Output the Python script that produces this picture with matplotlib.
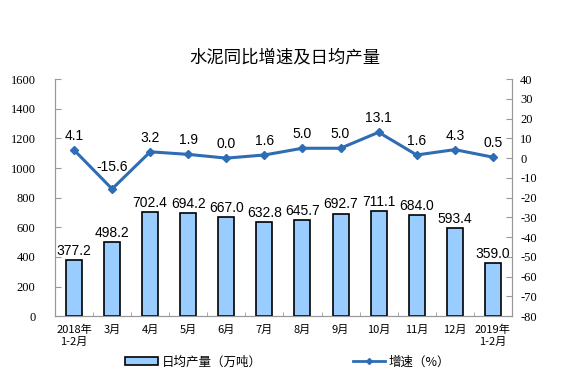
import matplotlib
matplotlib.use("Agg")
import matplotlib.pyplot as plt
from matplotlib.lines import Line2D
from matplotlib.patches import Patch

categories = ["2018年\n1-2月", "3月", "4月", "5月", "6月", "7月", "8月", "9月", "10月", "11月", "12月", "2019年\n1-2月"]
output = [377.2, 498.2, 702.4, 694.2, 667.0, 632.8, 645.7, 692.7, 711.1, 684.0, 593.4, 359.0]
growth = [4.1, -15.6, 3.2, 1.9, 0.0, 1.6, 5.0, 5.0, 13.1, 1.6, 4.3, 0.5]
left_ticks = [0, 200, 400, 600, 800, 1000, 1200, 1400, 1600]
right_ticks = list(range(-80, 41, 10))

cjk = ["Noto Sans CJK SC", "DejaVu Sans"]
serif = ["Liberation Serif", "DejaVu Serif"]
sans = ["Liberation Sans", "DejaVu Sans"]

fig = plt.figure(figsize=(5.7, 3.86), dpi=100)
ax = fig.add_axes([0.0965, 0.181, 0.8015, 0.614])
ax2 = ax.twinx()

x = list(range(len(categories)))
bar_color = "#99CCFF"
line_color = "#2E6DB4"

ax.bar(x, output, width=0.42, color=bar_color, edgecolor="black", linewidth=1.2, zorder=2)
for xi, v in zip(x, output):
    ax.text(xi, v + 15, f"{v:.1f}", ha="center", va="bottom", fontsize=10, family=sans)

ax.set_xlim(-0.5, len(categories) - 0.5)
ax.set_ylim(0, 1600)
ax.set_yticks(left_ticks)
ax.set_yticklabels([str(t) for t in left_ticks], family=serif, fontsize=9)
ax.set_xticks(x)
ax.set_xticklabels(categories, family=cjk, fontsize=8, linespacing=1.3)
ax.set_xticks([i + 0.5 for i in x[:-1]], minor=True)
ax.tick_params(axis="x", which="major", length=0, pad=6)
ax.tick_params(axis="x", which="minor", length=3, direction="in", color="#999999")
ax.tick_params(axis="y", direction="in", length=4, color="#999999", pad=14)

ax2.plot(x, growth, color=line_color, linewidth=2.2, marker="D", markersize=4.5, zorder=3)
for xi, v in zip(x, growth):
    off = 3.5 if v >= 0 else 7.5
    ax2.text(xi, v + off, f"{v:.1f}".replace("\u2212", "-"), ha="center", va="bottom",
             fontsize=10, family=sans)
ax2.set_ylim(-80, 40)
ax2.set_yticks(right_ticks)
ax2.set_yticklabels([str(t) for t in right_ticks], family=serif, fontsize=9)
ax2.tick_params(axis="y", direction="in", length=4, color="#999999", pad=6)

for a in (ax, ax2):
    a.spines["top"].set_visible(False)
    for s in ("left", "right", "bottom"):
        a.spines[s].set_color("#999999")

fig.text(0.5, 0.852, "水泥同比增速及日均产量", ha="center", va="center", fontsize=12.5, family=cjk)

handles = [Patch(facecolor=bar_color, edgecolor="black", linewidth=1.2),
           Line2D([0], [0], color=line_color, linewidth=2, marker="D", markersize=3)]
fig.legend(handles, ["日均产量（万吨）", "增速（%）"], loc="center", bbox_to_anchor=(0.505, 0.062),
           ncol=2, frameon=False, prop={"family": cjk, "size": 9}, columnspacing=7.3,
           handlelength=2.6, handleheight=0.6, handletextpad=0.3)

fig.savefig("out.png", dpi=100)
